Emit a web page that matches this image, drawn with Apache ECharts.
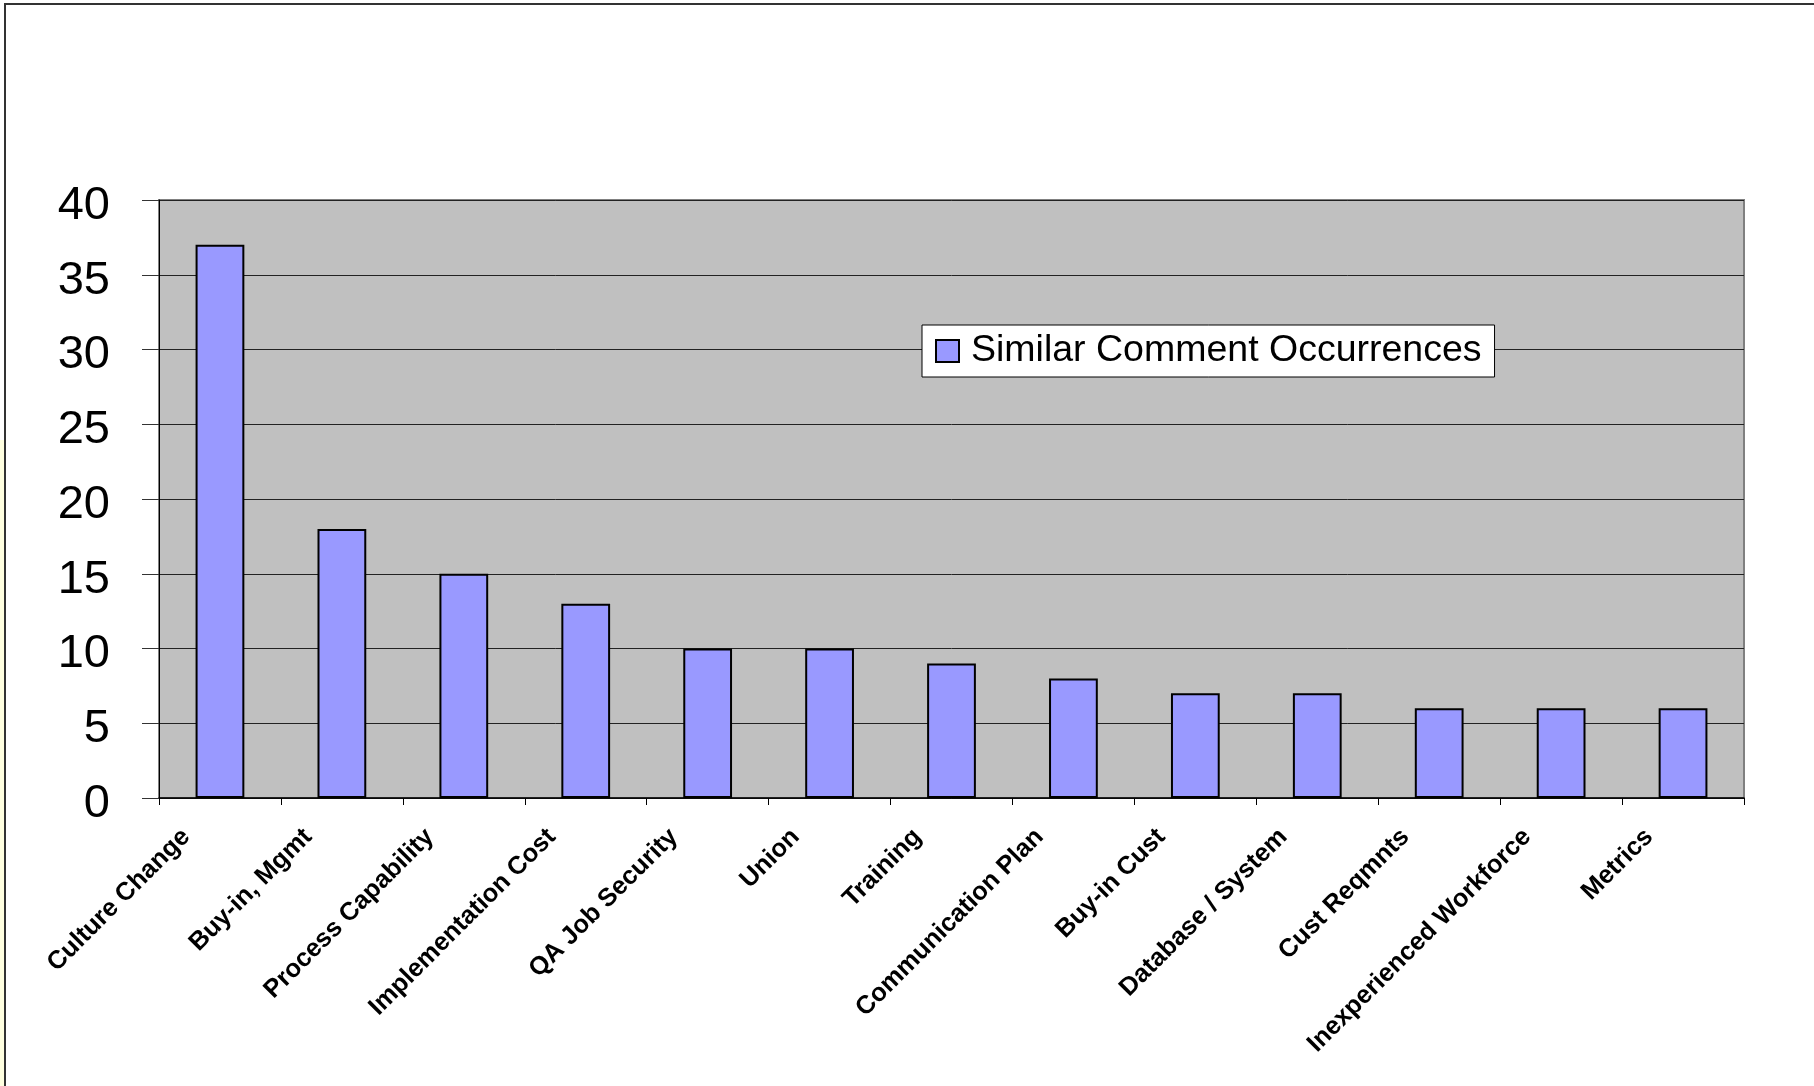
<!DOCTYPE html>
<html>
<head>
<meta charset="utf-8">
<style>
html,body{margin:0;padding:0;background:#fff;}
#chart{width:1814px;height:1086px;}
</style>
<script src="https://cdn.jsdelivr.net/npm/echarts@6/dist/echarts.min.js"></script>
</head>
<body>
<div id="chart"></div>
<script>
const categories = ['Culture Change','Buy-in, Mgmt','Process Capability','Implementation Cost','QA Job Security','Union','Training','Communication Plan','Buy-in Cust','Database / System','Cust Reqmnts','Inexperienced Workforce','Metrics'];
const occurrences = [37, 18, 15, 13, 10, 10, 9, 8, 7, 7, 6, 6, 6];
const seriesName = 'Similar Comment Occurrences';
const yTicks = [0, 5, 10, 15, 20, 25, 30, 35, 40];

const FONT = "'Liberation Sans', Arial, sans-serif";
const chart = echarts.init(document.getElementById('chart'), null, {renderer:'canvas'});
chart.setOption({
  animation: false,
  backgroundColor: '#ffffff',
  graphic: [
    {type:'rect', z:-10, shape:{x:0,y:440,width:5,height:700}, style:{fill:'#FFFFE0'}},
    {type:'rect', z:-5, shape:{x:5,y:4,width:1900,height:1200}, style:{fill:'none',stroke:'#333',lineWidth:2}}
  ],
  grid: {
    left: 159, right: 70, top: 200, bottom: 288,
    show: true, backgroundColor: '#C0C0C0', borderColor: '#808080', borderWidth: 2
  },
  legend: {
    show: true,
    left: 922, top: 325,
    orient: 'horizontal',
    backgroundColor: '#ffffff',
    borderColor: '#000',
    borderWidth: 1,
    padding: [7, 13, 7, 13],
    itemWidth: 23, itemHeight: 22, itemGap: 10,
    icon: 'rect',
    textStyle: {fontFamily: FONT, fontSize: 37.5, color: '#000', padding:[0,0,0,7]},
    data: [{name: seriesName, itemStyle:{color:'#9999FF', borderColor:'#000', borderWidth:2}}]
  },
  xAxis: {
    type: 'category',
    data: categories,
    boundaryGap: true,
    axisLine: {show: true, lineStyle: {color: '#000', width: 1.5}},
    axisTick: {show: true, alignWithLabel: false, length: 7, lineStyle: {color: '#000'}},
    axisLabel: {
      interval: 0, rotate: 45, margin: 1,
      fontFamily: FONT, fontSize: 25.5, fontWeight: 'bold', color: '#000',
      padding: [0, 48, 0, 0]
    },
    splitLine: {show: false}
  },
  yAxis: {
    type: 'value',
    min: yTicks[0], max: yTicks[yTicks.length-1], interval: 5,
    axisLine: {show: true, lineStyle: {color: '#000', width: 1}},
    axisTick: {show: true, inside: false, length: 17, lineStyle: {color: '#333'}},
    axisLabel: {margin: 49, fontFamily: FONT, fontSize: 47, color: '#000', verticalAlign: 'top', lineHeight: 12},
    splitLine: {show: true, lineStyle: {color: '#222', width: 1}}
  },
  series: [{
    name: seriesName,
    type: 'bar',
    data: occurrences,
    barWidth: '40%',
    itemStyle: {color: '#9999FF', borderColor: '#000', borderWidth: 2}
  }]
});
</script>
</body>
</html>
